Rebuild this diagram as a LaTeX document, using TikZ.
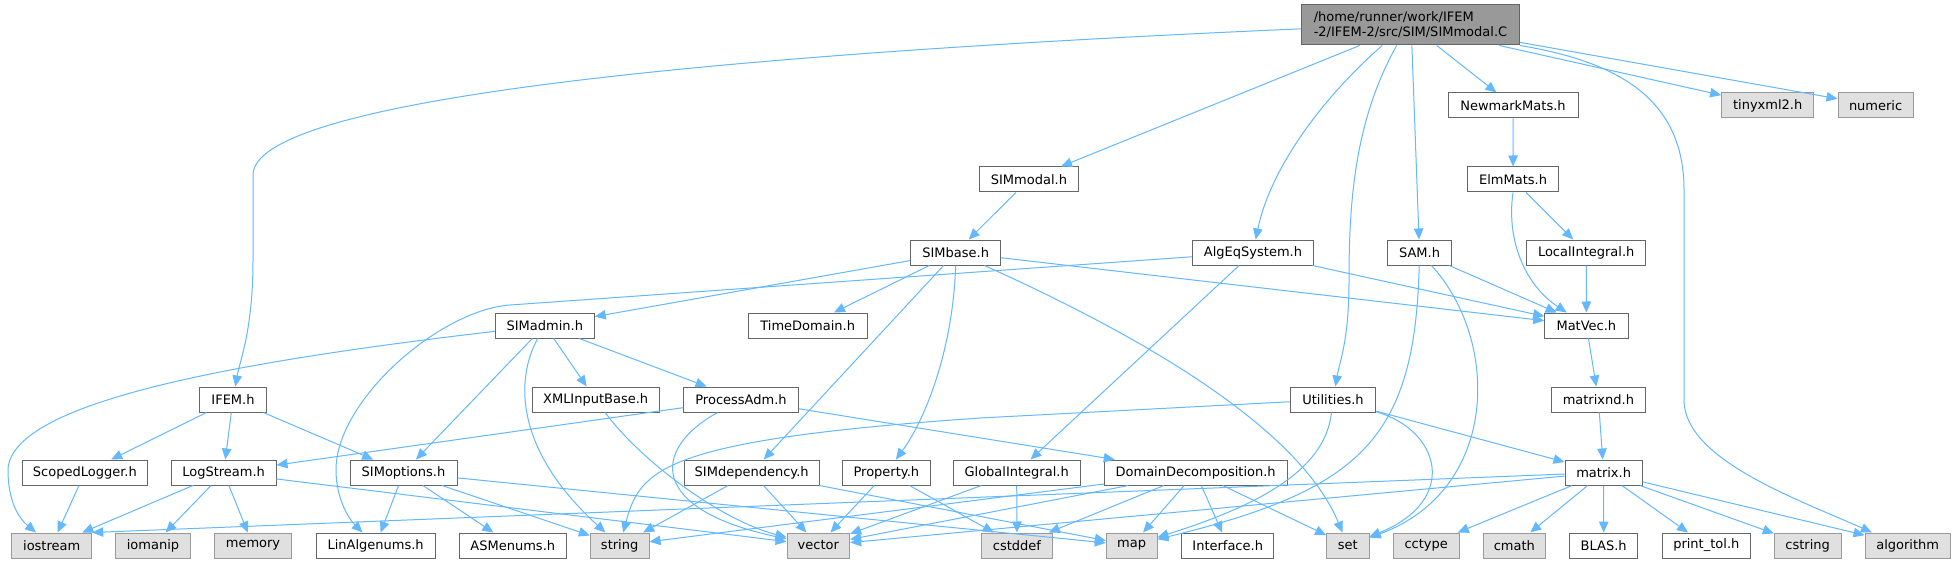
\documentclass[tikz,border=0pt]{standalone}
\usepackage{fontspec}
\setmainfont{DejaVu Sans}
\usetikzlibrary{arrows.meta}
\definecolor{edgec}{HTML}{63B8FF}
\definecolor{nborder}{HTML}{666666}
\definecolor{gborder}{HTML}{999999}
\definecolor{gfill}{HTML}{E0E0E0}
\definecolor{rfill}{HTML}{999999}
\tikzset{
 wn/.style={draw=nborder, fill=white, line width=1pt, minimum height=25pt, inner sep=0pt, font=\fontsize{13}{15}\selectfont},
 gn/.style={wn, draw=gborder, fill=gfill},
 conn/.style={draw=edgec, line width=1pt, -{Triangle[length=11pt,width=9.5pt]}},
}
\begin{document}
\begin{tikzpicture}[x=1pt,y=-1pt]
\useasboundingbox[fill=white] (0,0) rectangle (1956,564);
% row 0
\node[wn, fill=rfill, minimum width=217.9pt, minimum height=40pt, align=left] (root) at (1410.45,25) {/home/runner/work/IFEM\\-2/IFEM-2/src/SIM/SIMmodal.C};
% row 1
\node[wn, minimum width=130pt] (NewmarkMats) at (1513,105.5) {NewmarkMats.h};
\node[gn, minimum width=92.2pt] (tinyxml2) at (1767.7,105.5) {tinyxml2.h};
\node[gn, minimum width=75.2pt] (numeric) at (1875.6,105.5) {numeric};
% row 2
\node[wn, minimum width=99.4pt] (SIMmodal) at (1028.9,179.5) {SIMmodal.h};
\node[wn, minimum width=90.9pt] (ElmMats) at (1513.05,179.5) {ElmMats.h};
% row 3
\node[wn, minimum width=90.1pt] (SIMbase) at (955.65,252.5) {SIMbase.h};
\node[wn, minimum width=120.6pt] (AlgEqSystem) at (1253,252.5) {AlgEqSystem.h};
\node[wn, minimum width=64.4pt] (SAM) at (1419.5,252.5) {SAM.h};
\node[wn, minimum width=119pt] (LocalIntegral) at (1586.2,252.5) {LocalIntegral.h};
% row 4
\node[wn, minimum width=99pt] (SIMadmin) at (544.8,325.5) {SIMadmin.h};
\node[wn, minimum width=118.7pt] (TimeDomain) at (807.65,325.5) {TimeDomain.h};
\node[wn, minimum width=83.3pt] (MatVec) at (1586.35,325.5) {MatVec.h};
% row 5
\node[wn, minimum width=67.4pt] (IFEM) at (233,399.5) {IFEM.h};
\node[wn, minimum width=126.7pt] (XMLInputBase) at (595.65,399.5) {XMLInputBase.h};
\node[wn, minimum width=114.6pt] (ProcessAdm) at (741,399.5) {ProcessAdm.h};
\node[wn, minimum width=85.4pt] (Utilities) at (1333,399.5) {Utilities.h};
\node[wn, minimum width=93.3pt] (matrixnd) at (1598.35,399.5) {matrixnd.h};
% row 6
\node[wn, minimum width=124.3pt] (ScopedLogger) at (84.85,472.5) {ScopedLogger.h};
\node[wn, minimum width=104.7pt] (LogStream) at (223.65,472.5) {LogStream.h};
\node[wn, minimum width=107pt] (SIMoptions) at (403.5,472.5) {SIMoptions.h};
\node[wn, minimum width=134.7pt] (SIMdependency) at (751.65,472.5) {SIMdependency.h};
\node[wn, minimum width=87.3pt] (Property) at (886.35,472.5) {Property.h};
\node[wn, minimum width=126.7pt] (GlobalIntegral) at (1016.65,472.5) {GlobalIntegral.h};
\node[wn, minimum width=182.7pt] (DomainDecomposition) at (1195.65,472.5) {DomainDecomposition.h};
\node[wn, minimum width=77.3pt] (matrix) at (1603.65,472.5) {matrix.h};
% row 7
\node[gn, minimum width=80pt] (iostream) at (51.7,545.5) {iostream};
\node[gn, minimum width=74.6pt] (iomanip) at (153,545.5) {iomanip};
\node[gn, minimum width=77.4pt] (memory) at (253,545.5) {memory};
\node[wn, minimum width=118.7pt] (LinAlgenums) at (375.65,545.5) {LinAlgenums.h};
\node[wn, minimum width=107pt] (ASMenums) at (512.8,545.5) {ASMenums.h};
\node[gn, minimum width=58.7pt] (string) at (619.65,545.5) {string};
\node[gn, minimum width=62.7pt] (vector) at (818.35,545.5) {vector};
\node[gn, minimum width=70.6pt] (cstddef) at (1017,545.5) {cstddef};
\node[gn, minimum width=50.7pt] (map) at (1131.65,545.5) {map};
\node[wn, minimum width=92pt] (Interface) at (1227.7,545.5) {Interface.h};
\node[gn, minimum width=42.3pt] (set) at (1347.85,545.5) {set};
\node[gn, minimum width=65.7pt] (cctype) at (1426.15,545.5) {cctype};
\node[gn, minimum width=62.7pt] (cmath) at (1514.35,545.5) {cmath};
\node[wn, minimum width=68pt] (BLAS) at (1603.7,545.5) {BLAS.h};
\node[wn, minimum width=88pt] (printtol) at (1706.3,545.5) {print\_tol.h};
\node[gn, minimum width=66.7pt] (cstring) at (1807.65,545.5) {cstring};
\node[gn, minimum width=85.3pt] (algorithm) at (1907.65,545.5) {algorithm};

% edges from root
\draw[conn] (root.182) .. controls (700,55) and (253,100) .. (253,175) -- (253,260) .. controls (253,330) and (240,360) .. (IFEM);
\draw[conn] (root.202) -- (SIMmodal);
\draw[conn] (root.216) .. controls (1320,100) and (1270,170) .. (AlgEqSystem);
\draw[conn] (root.236) .. controls (1355,120) and (1349,200) .. (1349,280) .. controls (1349,340) and (1340,360) .. (Utilities);
\draw[conn] (root.274) -- (SAM);
\draw[conn] (root.322) -- (NewmarkMats);
\draw[conn] (root.347) -- (tinyxml2);
\draw[conn] (root.351) -- (numeric);
\draw[conn] (root.south east) .. controls (1620,62) and (1684,100) .. (1684,190) -- (1684,400) .. controls (1684,460) and (1800,500) .. (algorithm.160);
% upper part
\draw[conn] (NewmarkMats) -- (ElmMats);
\draw[conn] (SIMmodal) -- (SIMbase);
\draw[conn] (ElmMats) -- (LocalIntegral);
\draw[conn] (ElmMats.south) .. controls (1506,240) and (1525,285) .. (MatVec);
\draw[conn] (LocalIntegral) -- (MatVec);
\draw[conn] (SIMbase) -- (SIMadmin);
\draw[conn] (SIMbase) -- (TimeDomain);
\draw[conn] (SIMbase) -- (SIMdependency);
\draw[conn] (SIMbase.south) .. controls (953,350) and (925,420) .. (Property);
\draw[conn] (SIMbase) -- (MatVec);
\draw[conn] (SIMbase) .. controls (1150,340) and (1300,430) .. (set);
\draw[conn] (AlgEqSystem) -- (510,305) .. controls (440,310) and (336,400) .. (336,470) .. controls (336,500) and (350,520) .. (LinAlgenums);
\draw[conn] (AlgEqSystem) -- (GlobalIntegral);
\draw[conn] (AlgEqSystem) -- (MatVec);
\draw[conn] (SAM) -- (MatVec);
\draw[conn] (SAM) .. controls (1415,440) and (1360,490) .. (map);
\draw[conn] (SAM) .. controls (1500,340) and (1500,490) .. (set);
\draw[conn] (MatVec) -- (matrixnd);
\draw[conn] (matrixnd) -- (matrix);
% SIMadmin
\draw[conn] (SIMadmin) .. controls (250,360) and (10,400) .. (8,470) .. controls (8,495) and (15,515) .. (iostream);
\draw[conn] (SIMadmin) -- (SIMoptions);
\draw[conn] (SIMadmin) .. controls (515,380) and (515,450) .. (string);
\draw[conn] (SIMadmin) -- (XMLInputBase);
\draw[conn] (SIMadmin) -- (ProcessAdm);
\draw[conn] (XMLInputBase) .. controls (640,460) and (720,520) .. (vector);
\draw[conn] (ProcessAdm) -- (LogStream);
\draw[conn] (ProcessAdm) .. controls (650,450) and (650,510) .. (vector);
\draw[conn] (ProcessAdm) -- (DomainDecomposition);
% Utilities
\draw[conn] (Utilities) -- (980,418) .. controls (660,440) and (640,470) .. (string);
\draw[conn] (Utilities) .. controls (1325,470) and (1260,505) .. (map);
\draw[conn] (Utilities) .. controls (1440,430) and (1460,500) .. (set);
\draw[conn] (Utilities) -- (matrix);
% IFEM
\draw[conn] (IFEM) -- (ScopedLogger);
\draw[conn] (IFEM) -- (LogStream);
\draw[conn] (IFEM) -- (SIMoptions);
\draw[conn] (ScopedLogger) -- (iostream);
\draw[conn] (LogStream) -- (iostream);
\draw[conn] (LogStream) -- (iomanip);
\draw[conn] (LogStream) -- (memory);
\draw[conn] (LogStream) -- (vector);
\draw[conn] (SIMoptions) -- (LinAlgenums);
\draw[conn] (SIMoptions) -- (ASMenums);
\draw[conn] (SIMoptions) -- (string);
\draw[conn] (SIMoptions) -- (map);
\draw[conn] (SIMdependency) -- (string);
\draw[conn] (SIMdependency) -- (vector);
\draw[conn] (SIMdependency) -- (map);
\draw[conn] (Property) -- (vector);
\draw[conn] (Property) -- (cstddef);
\draw[conn] (GlobalIntegral) -- (vector);
\draw[conn] (GlobalIntegral) -- (cstddef);
\draw[conn] (DomainDecomposition) -- (string);
\draw[conn] (DomainDecomposition) -- (vector);
\draw[conn] (DomainDecomposition) -- (cstddef);
\draw[conn] (DomainDecomposition) -- (map);
\draw[conn] (DomainDecomposition) -- (Interface);
\draw[conn] (DomainDecomposition) -- (set);
% matrix
\draw[conn] (matrix) -- (iostream.north east);
\draw[conn] (matrix) -- (vector);
\draw[conn] (matrix) -- (cctype);
\draw[conn] (matrix) -- (cmath);
\draw[conn] (matrix) -- (BLAS);
\draw[conn] (matrix) -- (printtol);
\draw[conn] (matrix) -- (cstring);
\draw[conn] (matrix) -- (algorithm);
\end{tikzpicture}
\end{document}
